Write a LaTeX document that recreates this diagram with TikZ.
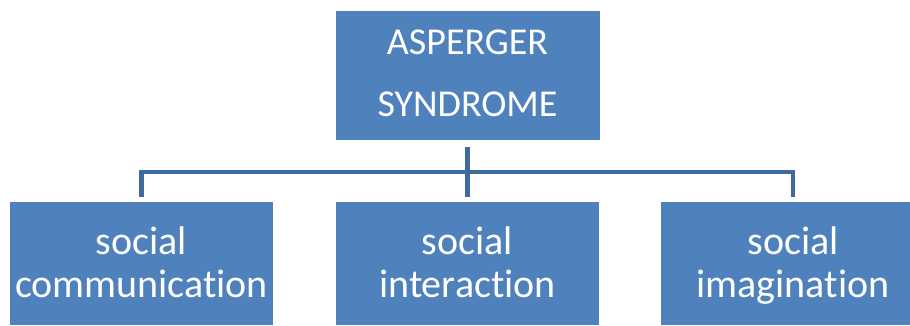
\documentclass[tikz,border=0pt]{standalone}
\usepackage{fontspec}
\setmainfont{Carlito}[Ligatures=CommonOff]
\usetikzlibrary{positioning}

\definecolor{boxblue}{RGB}{79,129,189}
\definecolor{lineblue}{RGB}{62,106,158}

\begin{document}
\begin{tikzpicture}[x=1pt,y=-1pt]
\useasboundingbox (0,0) rectangle (910,325);

\tikzset{
  topbox/.style={rectangle,fill=boxblue,text=white,minimum width=264pt,minimum height=129pt,
    align=center,inner sep=0pt,text depth=4pt,font=\fontsize{38}{62}\selectfont},
  subbox/.style={rectangle,fill=boxblue,text=white,minimum width=263pt,minimum height=123pt,
    align=center,inner sep=0pt,text depth=3pt,anchor=north,font=\fontsize{40}{43}\selectfont},
  branch/.style={draw=lineblue,line width=4.5pt}
}

\node[topbox](as) at (467.5,75){ASPERGER\\SYNDROME};
\node[subbox](com) at (141.5,202){social\\communication};
\node[subbox](int) at (467.5,202){social\\interaction};
\node[subbox,minimum width=264pt](ima) at (793,202){social\\imagination};

% querbalken
\coordinate (bar) at (467,172);

\draw[branch] ([yshift=-7pt]as.south) -- ([yshift=5pt]int.north);
\draw[branch] ([yshift=5pt]com.north) |- (bar) -| ([yshift=5pt]ima.north);

\end{tikzpicture}
\end{document}
